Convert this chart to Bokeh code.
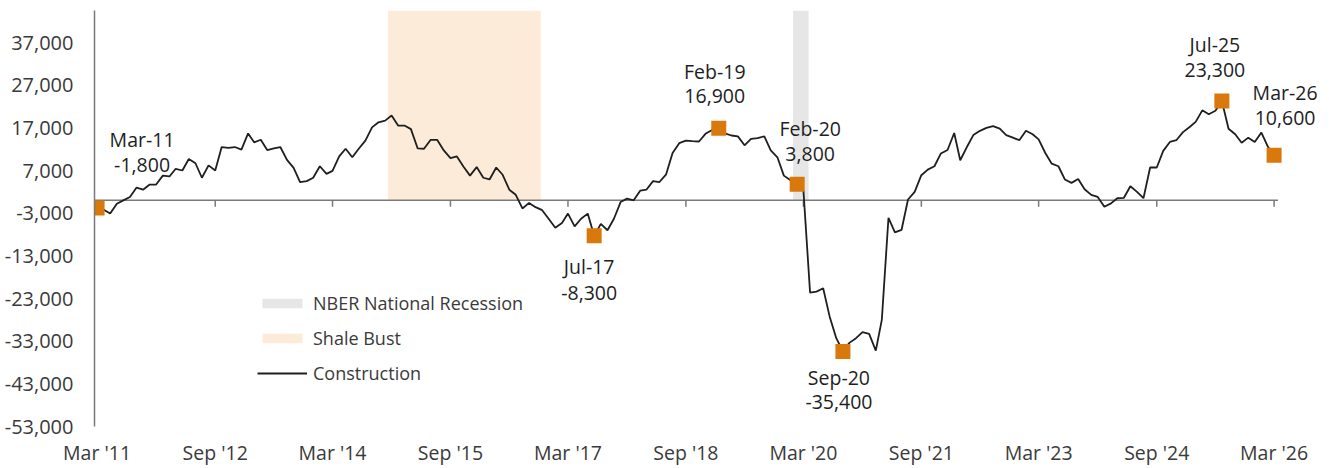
import pandas as pd
from bokeh.plotting import figure
from bokeh.models import (Range1d, FixedTicker, NumeralTickFormatter, CustomJSTickFormatter,
                          Legend, LegendItem)
from bokeh.embed import file_html
from bokeh.resources import INLINE
from bokeh.core.properties import value

# ---------------- data ----------------
start_month = "2011-03-01"
construction = [
    -1800, -2200, -3100, -800, 0, 800, 3000, 2500, 3700, 3700,
    5800, 5600, 7400, 7000, 9700, 8700, 5300, 8200, 7000, 12500,
    12300, 12500, 11900, 15700, 13600, 14200, 11800, 12200, 12500, 9500,
    7600, 4300, 4500, 5300, 8000, 6200, 6900, 10300, 12100, 10100,
    12100, 14000, 17100, 18300, 18700, 19900, 17500, 17500, 16700, 12200,
    12100, 14200, 14200, 11700, 9900, 10300, 7900, 5800, 7800, 5300,
    4900, 7700, 6000, 2500, 1300, -1900, -600, -1600, -2300, -4300,
    -6400, -5300, -3100, -6100, -4300, -3100, -8300, -5500, -7000, -4300,
    -400, 400, 0, 2300, 2500, 4500, 4300, 6100, 11100, 13400,
    14000, 13900, 13800, 15600, 16500, 16900, 15700, 15200, 15000, 12900,
    14400, 14600, 15000, 11700, 10100, 5800, 4700, 3800, 2400, -21600,
    -21400, -20600, -27200, -32300, -35400, -33400, -32300, -30900, -31300, -35200,
    -28000, -4100, -7500, -6900, 200, 2000, 5900, 7200, 8000, 11000,
    11800, 15800, 9400, 12500, 15300, 16300, 17000, 17400, 16800, 15300,
    14700, 14100, 16300, 15500, 14300, 11100, 8600, 8000, 4900, 4100,
    5000, 2600, 1300, 800, -1500, -700, 500, 600, 3300, 2000,
    500, 7700, 7700, 11600, 13700, 14100, 16000, 17200, 18400, 21100,
    20200, 21000, 23300, 16800, 15500, 13500, 14700, 13700, 15900, 12500,
    10600,
]
dates = pd.date_range(start_month, periods=len(construction), freq="MS")

annot_dates = ["2011-03-01", "2017-07-01", "2019-02-01", "2020-02-01",
               "2020-09-01", "2025-07-01", "2026-03-01"]
annot_labels = ["Mar-11", "Jul-17", "Feb-19", "Feb-20", "Sep-20", "Jul-25", "Mar-26"]
annot_values = [-1800, -8300, 16900, 3800, -35400, 23300, 10600]

recession_start = ["2020-01-13"]
recession_end = ["2020-03-25"]
shale_start = ["2014-11-14"]
shale_end = ["2016-10-25"]

x_tick_dates = ["2011-03-01", "2012-09-01", "2014-03-01", "2015-09-01", "2017-03-01",
                "2018-09-01", "2020-03-01", "2021-09-01", "2023-03-01", "2024-09-01",
                "2026-03-01"]
x_tick_labels = ["Mar '11", "Sep '12", "Mar '14", "Sep '15", "Mar '17", "Sep '18",
                 "Mar '20", "Sep '21", "Mar '23", "Sep '24", "Mar '26"]
y_ticks = [-53000, -43000, -33000, -23000, -13000, -3000, 7000, 17000, 27000, 37000]

# ---------------- styles ----------------
FONT = "Open Sans"
ORANGE = "#D9780B"
LINE_C = "#1f1f1f"
AXIS_C = "#7a7a7a"
TEXT_C = "#1e1e1e"
TICK_C = "#3a3a3a"
Y_BOTTOM = -53000
Y_TOP = 44500
TICK_LEN = 1500

# label offsets (px) relative to the marker: date line, value line
dx = [45, -5, -4, 13, -4, -7, 11]
dy_date = [-69, 31, -57, -56, 26, -56, -63]
dy_val = [-43, 57, -32, -30, 51, -31, -37]

x_start = pd.Timestamp(start_month) - pd.Timedelta(days=12)
x_end = pd.Timestamp(start_month) + pd.Timedelta(days=5737)
zero_end = dates[-1] + pd.Timedelta(days=18)

p = figure(width=1329, height=468, x_axis_type="datetime",
           x_range=Range1d(x_start, x_end), y_range=Range1d(Y_BOTTOM, Y_TOP),
           output_backend="svg", toolbar_location=None,
           min_border_left=94, min_border_right=0, min_border_top=10, min_border_bottom=40)
p.grid.visible = False
p.outline_line_color = None
p.background_fill_color = "white"

# shaded periods
rec = p.quad(left=pd.to_datetime(recession_start), right=pd.to_datetime(recession_end),
             bottom=0, top=Y_TOP, fill_color="#E6E6E6", line_color=None)
shale = p.quad(left=pd.to_datetime(shale_start), right=pd.to_datetime(shale_end),
               bottom=0, top=Y_TOP, fill_color="#FDEBD9", line_color=None)

# zero line with tick marks
tick_ts = pd.to_datetime(x_tick_dates)
p.segment(x0=[x_start], x1=[zero_end], y0=[0], y1=[0], line_color=AXIS_C, line_width=1.5)
p.segment(x0=tick_ts, x1=tick_ts, y0=0, y1=-TICK_LEN, line_color=AXIS_C, line_width=1.5)

line = p.line(dates, construction, line_color=LINE_C, line_width=1.8)

ad = pd.to_datetime(annot_dates)
p.scatter(ad, annot_values, marker="square", size=15, fill_color=ORANGE, line_color=None)

p.text(x=ad, y=annot_values, text=annot_labels, x_offset=dx, y_offset=dy_date,
       text_align="center", text_baseline="middle", text_font=value(FONT),
       text_font_size="19.5px", text_color=TEXT_C)
p.text(x=ad, y=annot_values, text=[f"{v:,}" for v in annot_values], x_offset=dx,
       y_offset=dy_val, text_align="center", text_baseline="middle",
       text_font=value(FONT), text_font_size="19.5px", text_color=TEXT_C)

# axes
tick_ms = [int(t.value // 10**6) for t in tick_ts]
p.xaxis.ticker = FixedTicker(ticks=tick_ms)
p.xaxis.formatter = CustomJSTickFormatter(
    args=dict(tick_vals=tick_ms, tick_labels=x_tick_labels),
    code="const i = tick_vals.indexOf(tick); return i >= 0 ? tick_labels[i] : '';")
p.xaxis.axis_line_color = None
p.xaxis.major_tick_line_color = None
p.xaxis.minor_tick_line_color = None
p.xaxis.major_tick_out = 0
p.xaxis.major_tick_in = 0
p.xaxis.major_label_standoff = 12
p.xaxis.major_label_text_font = FONT
p.xaxis.major_label_text_font_size = "19.5px"
p.xaxis.major_label_text_color = TICK_C

p.yaxis.ticker = FixedTicker(ticks=y_ticks)
p.yaxis.formatter = NumeralTickFormatter(format="0,0")
p.yaxis.axis_line_color = AXIS_C
p.yaxis.axis_line_width = 1.5
p.yaxis.major_tick_line_color = None
p.yaxis.minor_tick_line_color = None
p.yaxis.major_tick_out = 0
p.yaxis.major_tick_in = 0
p.yaxis.major_label_standoff = 21
p.yaxis.major_label_text_font = FONT
p.yaxis.major_label_text_font_size = "20px"
p.yaxis.major_label_text_color = TICK_C

legend = Legend(items=[LegendItem(label="NBER National Recession", renderers=[rec]),
                       LegendItem(label="Shale Bust", renderers=[shale]),
                       LegendItem(label="Construction", renderers=[line])],
                location=(163, 41), orientation="vertical",
                glyph_width=50, glyph_height=12, label_height=20, spacing=11,
                padding=0, margin=0, label_standoff=6,
                background_fill_alpha=0, border_line_alpha=0,
                label_text_font=FONT, label_text_font_size="18px",
                label_text_color=TICK_C)
p.add_layout(legend)

open("out.html", "w").write(file_html(p, INLINE))
